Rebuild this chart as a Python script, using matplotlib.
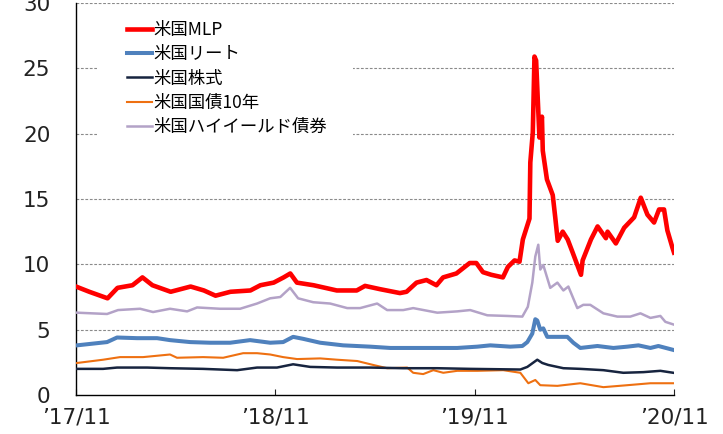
import matplotlib
matplotlib.use("Agg")
import matplotlib.pyplot as plt
from matplotlib.patches import Rectangle

plt.rcParams['font.family'] = ['Noto Sans CJK JP', 'DejaVu Sans']

# x values: months since 2017-11
tick_months = [0, 12, 24, 36]
tick_labels = ["’17/11", "’18/11", "’19/11", "’20/11"]
y_ticks = [0, 5, 10, 15, 20, 25, 30]

labels = ["米国MLP", "米国リート", "米国株式", "米国国債10年", "米国ハイイールド債券"]

mlp_m = [0.0, 0.8, 1.9, 2.5, 3.4, 4.0, 4.6, 5.7, 6.9, 7.7, 8.4, 9.3, 10.5, 11.1, 11.9,
         12.5, 12.9, 13.3, 14.3, 15.7, 16.9, 17.4, 18.3, 19.5, 19.9, 20.5, 21.1, 21.7,
         22.1, 22.9, 23.7, 24.1, 24.5, 25.0, 25.7, 26.0, 26.4, 26.7, 26.9, 27.15, 27.3,
         27.35, 27.5, 27.6, 27.7, 27.8, 27.9, 28.05, 28.1, 28.35, 28.7, 28.85, 29.0, 29.3,
         29.6, 29.9, 30.4, 30.5, 31.0, 31.4, 31.9, 32.0, 32.5, 33.0, 33.6, 34.0, 34.4,
         34.8, 35.1, 35.4, 35.6, 35.9, 36.0]
mlp_v = [8.3, 7.9, 7.4, 8.2, 8.4, 9.0, 8.4, 7.9, 8.3, 8.0, 7.6, 7.9, 8.0, 8.4, 8.6,
         9.0, 9.3, 8.6, 8.4, 8.0, 8.0, 8.35, 8.1, 7.8, 7.9, 8.6, 8.8, 8.4,
         9.0, 9.3, 10.1, 10.1, 9.4, 9.2, 9.0, 9.8, 10.3, 10.2, 11.9, 12.9, 13.5,
         17.8, 20.1, 25.9, 25.6, 22.6, 19.7, 21.3, 18.7, 16.5, 15.3, 13.6, 11.8, 12.5,
         11.9, 10.9, 9.2, 10.3, 11.9, 12.9, 12.0, 12.5, 11.6, 12.8, 13.6, 15.1, 13.8,
         13.2, 14.2, 14.2, 12.6, 11.3, 10.9]

reit_m = [0.06, 1.87, 2.47, 3.67, 4.88, 5.66, 6.87, 8.07, 9.28, 10.48, 11.69, 12.47,
          13.07, 13.67, 14.7, 16.08, 17.71, 18.92, 20.12, 21.75, 22.95, 24.16, 24.94,
          26.14, 26.87, 27.17, 27.47, 27.65, 27.77, 27.95, 28.13, 28.37, 28.98, 29.58,
          29.94, 30.36, 31.39, 32.35, 33.19, 33.86, 34.58, 35.06, 35.96]
reit_v = [3.8, 4.05, 4.4, 4.35, 4.35, 4.2, 4.05, 4.0, 4.0, 4.2, 4.0, 4.05,
          4.45, 4.3, 4.0, 3.8, 3.7, 3.6, 3.6, 3.6, 3.6, 3.7, 3.8,
          3.7, 3.75, 4.05, 4.7, 5.8, 5.7, 5.0, 5.1, 4.45, 4.45, 4.45,
          4.0, 3.6, 3.75, 3.6, 3.7, 3.8, 3.6, 3.75, 3.45]

stock_m = [0.06, 1.63, 2.47, 4.28, 5.66, 7.65, 9.7, 10.9, 12.1, 13.07, 14.1, 15.72,
           17.71, 19.7, 21.75, 23.73, 26.75, 27.17, 27.77, 28.07, 28.43, 29.34, 30.36,
           31.75, 32.95, 34.16, 35.18, 35.96]
stock_v = [2.0, 2.0, 2.1, 2.1, 2.05, 2.0, 1.9, 2.1, 2.1, 2.35, 2.15, 2.1,
           2.1, 2.05, 2.05, 2.0, 1.95, 2.15, 2.7, 2.45, 2.3, 2.05, 2.0,
           1.9, 1.7, 1.75, 1.85, 1.7]

ust_m = [0.06, 1.63, 2.65, 4.04, 5.66, 6.08, 7.65, 8.86, 10.06, 10.9, 11.69, 12.47,
         13.31, 14.7, 15.72, 16.93, 17.89, 18.73, 19.94, 20.3, 20.9, 21.51, 22.11,
         22.95, 24.16, 25.72, 26.75, 27.23, 27.65, 27.95, 28.98, 30.36, 31.75, 33.19,
         34.58, 35.96]
ust_v = [2.45, 2.7, 2.9, 2.9, 3.1, 2.85, 2.9, 2.85, 3.2, 3.2, 3.1, 2.9,
         2.75, 2.8, 2.7, 2.6, 2.3, 2.05, 2.1, 1.7, 1.6, 1.9, 1.7,
         1.85, 1.85, 1.9, 1.7, 0.9, 1.15, 0.75, 0.7, 0.9, 0.6, 0.75,
         0.9, 0.9]

hy_m = [0.06, 1.87, 2.53, 3.86, 4.64, 5.66, 6.69, 7.29, 8.67, 9.88, 10.9, 11.69,
        12.3, 12.89, 13.37, 14.28, 15.3, 16.33, 17.1, 18.13, 18.73, 19.7, 20.3,
        21.75, 22.95, 23.73, 24.76, 25.96, 26.87, 27.2, 27.47, 27.65, 27.83, 27.95,
        28.13, 28.55, 28.98, 29.34, 29.64, 30.18, 30.54, 30.96, 31.75, 32.59, 33.37,
        33.98, 34.58, 35.18, 35.48, 35.96]
hy_v = [6.3, 6.2, 6.5, 6.6, 6.35, 6.6, 6.4, 6.7, 6.6, 6.6, 7.0, 7.4,
        7.5, 8.2, 7.4, 7.1, 7.0, 6.65, 6.65, 7.0, 6.5, 6.5, 6.65,
        6.3, 6.4, 6.5, 6.1, 6.05, 6.0, 6.75, 8.6, 10.6, 11.5, 9.6,
        9.95, 8.2, 8.6, 8.0, 8.3, 6.65, 6.9, 6.9, 6.25, 6.0, 6.0,
        6.25, 5.9, 6.05, 5.6, 5.4]

fig = plt.figure(figsize=(7.23, 4.34), dpi=100)
ax = fig.add_axes([76/723, 39/434, 598/723, 392/434])

ax.plot(ust_m, ust_v, color='#EE7011', lw=1.5, label=labels[3], zorder=3)
ax.plot(stock_m, stock_v, color='#17243F', lw=1.8, label=labels[2], zorder=3)
ax.plot(reit_m, reit_v, color='#4F81BD', lw=2.9, label=labels[1], zorder=3)
ax.plot(hy_m, hy_v, color='#B3A2C7', lw=1.8, label=labels[4], zorder=3)
ax.plot(mlp_m, mlp_v, color='#FF0000', lw=3.3, label=labels[0], zorder=4)

ax.set_xlim(0, 36)
ax.set_ylim(0, 30)
ax.set_xticks(tick_months)
ax.set_xticklabels(tick_labels, fontsize=15.5, family='DejaVu Sans')
ax.set_yticks(y_ticks)
ax.set_yticklabels([str(v) for v in y_ticks], fontsize=15.5, family='DejaVu Sans')
ax.tick_params(axis='x', direction='in', length=4.5, width=0.8, pad=9, colors='#222222')
ax.tick_params(axis='y', length=0, pad=18.5, colors='#222222')

for s in ['top', 'right']:
    ax.spines[s].set_visible(False)
for s in ['left', 'bottom']:
    ax.spines[s].set_color('black')
    ax.spines[s].set_linewidth(1.0)

for yv in y_ticks[1:]:
    ax.axhline(yv, color='#8a8a8a', lw=0.8, ls=(0, (2.5, 1.5)), zorder=1)

# white backing behind legend (hides gridlines as in the reference)
ax.add_patch(Rectangle((0.035, 0.62), 0.428, 0.35, transform=ax.transAxes,
                       facecolor='white', edgecolor='none', zorder=2))

handles, labs = ax.get_legend_handles_labels()
order = [labs.index(l) for l in labels]
leg = ax.legend([handles[i] for i in order], [labs[i] for i in order],
                loc='upper left', bbox_to_anchor=(0.085, 0.954), fontsize=12.5,
                frameon=False, handlelength=1.44, handletextpad=0.1,
                labelspacing=0.36, borderpad=0, borderaxespad=0)
leg.set_zorder(5)

fig.savefig("out.png", dpi=100)
